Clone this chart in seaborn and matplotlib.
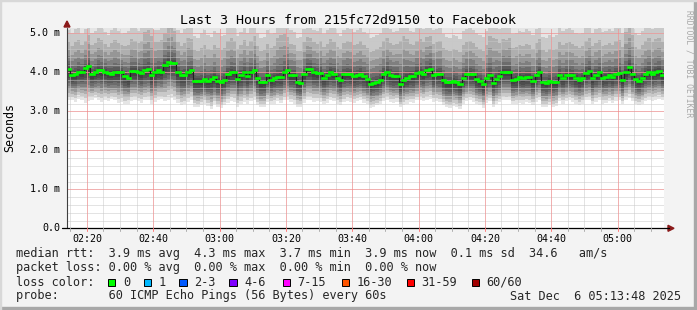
import matplotlib
matplotlib.use("Agg")
import matplotlib.pyplot as plt
import seaborn as sns
import numpy as np
import pandas as pd
from matplotlib.patches import Rectangle, Polygon

# ---------------- data ----------------
title = "Last 3 Hours from 215fc72d9150 to Facebook"
tick_labels = ["02:20", "02:40", "03:00", "03:20", "03:40", "04:00", "04:20", "04:40", "05:00"]
ytick_values = [0.0, 1.0, 2.0, 3.0, 4.0, 5.0]
ytick_labels = ["0.0", "1.0 m", "2.0 m", "3.0 m", "4.0 m", "5.0 m"]

# median rtt per minute (ms), starting 02:14
median_rtt = [
    4.08, 3.93, 3.96, 4.02, 4.01, 4.10, 4.17, 3.95, 4.00, 4.07,
    4.05, 4.02, 3.98, 3.96, 4.00, 4.00, 4.00, 3.91, 3.86, 4.03,
    4.03, 4.01, 3.98, 4.05, 4.08, 3.93, 4.00, 4.07, 4.02, 4.20,
    4.27, 4.24, 4.24, 4.00, 3.93, 3.93, 4.02, 4.05, 3.78, 3.78,
    3.78, 3.83, 3.78, 3.83, 3.88, 3.78, 3.76, 3.80, 3.95, 4.00,
    4.00, 3.83, 3.92, 4.00, 3.90, 4.00, 4.07, 3.85, 3.74, 3.74,
    3.92, 3.81, 3.85, 3.88, 3.88, 4.00, 4.07, 3.93, 3.93, 3.76,
    3.73, 3.95, 4.09, 4.09, 4.00, 3.98, 3.98, 3.86, 3.93, 4.00,
    3.97, 3.86, 3.81, 3.95, 3.97, 3.95, 3.90, 3.92, 3.95, 3.90,
    3.83, 3.71, 3.73, 3.76, 3.81, 3.95, 4.00, 3.93, 3.90, 3.90,
    3.71, 3.81, 3.86, 3.90, 3.90, 3.98, 4.00, 3.95, 4.05, 4.09,
    3.93, 3.95, 3.95, 3.81, 3.74, 3.74, 3.78, 3.76, 3.69, 3.86,
    3.95, 3.95, 3.95, 3.83, 3.78, 3.69, 3.86, 3.93, 3.73, 3.83,
    3.90, 4.02, 4.02, 4.02, 3.81, 3.83, 3.88, 3.86, 3.88, 3.88,
    3.78, 3.92, 4.00, 3.74, 3.73, 3.78, 3.74, 3.76, 3.93, 3.86,
    3.93, 3.93, 3.93, 3.85, 3.81, 3.85, 3.98, 4.03, 3.85, 3.93,
    4.00, 3.86, 3.88, 3.93, 3.88, 3.95, 3.98, 3.81, 4.00, 4.14,
    3.95, 3.83, 3.78, 3.85, 3.95, 4.00, 3.95, 4.00, 4.03, 3.93,
]

# fastest ping per minute (ms)
min_rtt = [
    3.28, 3.30, 3.25, 3.32, 3.30, 3.22, 3.27, 3.30, 3.33, 3.28,
    3.24, 3.30, 3.26, 3.31, 3.28, 3.22, 3.25, 3.18, 3.20, 3.27,
    3.30, 3.26, 3.22, 3.28, 3.30, 3.20, 3.24, 3.29, 3.31, 3.26,
    3.30, 3.34, 3.28, 3.22, 3.15, 3.18, 3.25, 3.30, 3.12, 3.10,
    3.16, 3.20, 3.14, 3.05, 3.18, 3.10, 3.08, 3.15, 3.22, 3.27,
    3.25, 3.12, 3.18, 3.24, 3.20, 3.26, 3.30, 3.15, 3.10, 3.12,
    3.24, 3.18, 3.20, 3.26, 3.22, 3.28, 3.30, 3.24, 3.20, 3.12,
    3.10, 3.22, 3.30, 3.28, 3.25, 3.26, 3.24, 3.18, 3.22, 3.28,
    3.26, 3.20, 3.16, 3.24, 3.27, 3.25, 3.22, 3.26, 3.28, 3.22,
    3.18, 3.08, 3.12, 3.15, 3.20, 3.26, 3.30, 3.24, 3.22, 3.25,
    3.10, 3.16, 3.20, 3.24, 3.22, 3.28, 3.30, 3.26, 3.30, 3.32,
    3.25, 3.26, 3.24, 3.15, 3.10, 3.08, 3.14, 3.12, 3.06, 3.20,
    3.26, 3.28, 3.25, 3.18, 3.15, 3.08, 3.22, 3.26, 3.12, 3.18,
    3.24, 3.30, 3.28, 3.30, 3.18, 3.20, 3.22, 3.20, 3.24, 3.22,
    3.15, 3.25, 3.28, 3.12, 3.10, 3.15, 3.12, 3.14, 3.26, 3.20,
    3.26, 3.28, 3.25, 3.20, 3.16, 3.20, 3.28, 3.30, 3.18, 3.25,
    3.28, 3.20, 3.22, 3.26, 3.22, 3.27, 3.28, 3.18, 3.30, 3.34,
    3.26, 3.18, 3.15, 3.20, 3.26, 3.30, 3.27, 3.30, 3.32, 3.30,
]

# slowest ping per minute (ms)
max_rtt = [
    5.45, 5.40, 5.55, 5.60, 5.35, 5.50, 5.70, 5.40, 5.45, 5.65,
    5.55, 5.40, 5.30, 5.50, 5.60, 5.45, 5.35, 5.40, 5.50, 5.65,
    5.55, 5.45, 5.60, 5.95, 6.05, 5.90, 5.50, 5.45, 5.60, 5.80,
    6.00, 6.10, 5.85, 5.50, 5.40, 5.55, 5.70, 5.60, 5.35, 5.30,
    5.45, 5.55, 5.40, 5.30, 5.50, 5.45, 5.35, 5.40, 5.60, 5.70,
    5.55, 5.35, 5.45, 5.60, 5.40, 5.55, 5.75, 5.45, 5.30, 5.35,
    5.50, 5.40, 5.45, 5.85, 6.00, 5.90, 5.70, 5.50, 5.45, 5.30,
    5.35, 5.55, 5.70, 5.65, 5.50, 5.45, 5.60, 5.40, 5.50, 5.65,
    5.55, 5.40, 5.35, 5.50, 5.60, 5.55, 5.45, 5.50, 5.60, 5.45,
    5.40, 5.30, 5.35, 5.40, 5.45, 5.60, 5.70, 5.55, 5.45, 5.50,
    5.85, 6.00, 5.80, 5.50, 5.45, 5.60, 5.65, 5.55, 5.70, 5.75,
    5.50, 5.55, 5.60, 5.40, 5.35, 5.30, 5.40, 5.35, 5.30, 5.50,
    5.55, 5.60, 5.50, 5.45, 5.40, 5.35, 5.50, 5.90, 6.00, 5.85,
    5.55, 5.65, 5.60, 5.70, 5.40, 5.45, 5.50, 5.45, 5.55, 5.50,
    5.40, 5.55, 5.65, 5.35, 5.30, 5.40, 5.35, 5.40, 5.60, 5.50,
    5.55, 5.60, 5.50, 5.45, 5.40, 5.45, 5.60, 5.70, 5.45, 5.55,
    5.60, 5.45, 5.50, 5.55, 5.50, 5.60, 5.65, 5.45, 6.00, 6.20,
    5.90, 5.45, 5.40, 5.50, 5.60, 5.70, 5.55, 5.65, 5.70, 5.60,
]

legend_line1 = "median rtt:  3.9 ms avg  4.3 ms max  3.7 ms min  3.9 ms now  0.1 ms sd  34.6   am/s"
legend_line2 = "packet loss: 0.00 % avg  0.00 % max  0.00 % min  0.00 % now"
legend_line3 = "loss color:"
loss_labels = ["0", "1", "2-3", "4-6", "7-15", "16-30", "31-59", "60/60"]
loss_colors = ["#00ff00", "#00b8ff", "#0059ff", "#7e00ff", "#ff00ff", "#ff5500", "#ff0000", "#a10000"]
probe_text = "probe:       60 ICMP Echo Pings (56 Bytes) every 60s"
date_text = "Sat Dec  6 05:13:48 2025"
watermark = "RRDTOOL / TOBI OETIKER"
ylabel = "Seconds"

# ---------------- figure ----------------
W, H = 697, 310
sns.set_theme(style="white")
plt.rcParams["font.family"] = ["DejaVu Sans Mono"]
fig = plt.figure(figsize=(W / 100, H / 100), dpi=100)
fig.patch.set_facecolor("#f3f3f3")

def fx(px):
    return px / W

def fy(py):
    return 1 - py / H

# 3D frame
fig.patches.append(Rectangle((0, 0), 1, fy(H - 3), transform=fig.transFigure, color="#a8a8a8", zorder=0))
fig.patches.append(Rectangle((fx(W - 3), 0), fx(3), 1, transform=fig.transFigure, color="#a8a8a8", zorder=0))
fig.patches.append(Rectangle((0, fy(1)), 1, fy(0) - fy(1), transform=fig.transFigure, color="#d8d8d8", zorder=0))
fig.patches.append(Rectangle((0, 0), fx(1), 1, transform=fig.transFigure, color="#d8d8d8", zorder=0))

left, top, bottom = 67, 28.3, 228.3
ax = fig.add_axes([fx(left), fy(bottom), fx(597), fy(top) - fy(bottom)])
ax.set_facecolor("white")
n = len(median_rtt)
ax.set_xlim(0, n)
ax.set_ylim(0, 5.13)
for s in ax.spines.values():
    s.set_visible(False)
ax.set_xticks([])
ax.set_yticks([])

med = np.array(median_rtt)
lo = np.array(min_rtt)
hi = np.array(max_rtt)
t = np.arange(n)
edges = np.arange(n + 1)

def ext(a):
    return np.append(a, a[-1])

# smoke (nested percentile-like bands, darker towards the median)
fracs = [1.0, 0.8, 0.62, 0.48, 0.36, 0.26, 0.18, 0.11, 0.05]
alphas = [0.10, 0.12, 0.13, 0.14, 0.15, 0.15, 0.15, 0.15, 0.15]
for f, a in zip(fracs, alphas):
    ax.fill_between(edges, ext(med - (f ** 0.6) * (med - lo)), ext(med + (f ** 1.4) * (hi - med)),
                    step="post", color="black", alpha=a, lw=0, zorder=1)

# grid
dot = (0, (1, 1))
for m in range(1, n, 5):
    ax.axvline(m, color="#c8c8c8", lw=0.72, ls=dot, zorder=2)
for v in np.arange(0.2, 5.13, 0.2):
    ax.axhline(v, color="#c8c8c8", lw=0.72, ls=dot, zorder=2)
major_x = [6 + 20 * i for i in range(len(tick_labels))]
for m in major_x:
    ax.axvline(m, color="#ff8080", lw=0.72, ls=dot, zorder=3)
for v in ytick_values[1:]:
    ax.axhline(v, color="#ff8080", lw=0.72, ls=dot, zorder=3)

# median line: dark step connectors + green levels
df = pd.DataFrame({"t": t, "median": med})
sns.lineplot(data=df, x="t", y="median", drawstyle="steps-post", color="#202020",
             lw=0.8, ax=ax, zorder=4)
ax.hlines(med, t, t + 1, color="#00ff00", lw=1.9, zorder=5, capstyle="projecting")
ax.set_xlabel("")
ax.set_ylabel("")

# axes lines and arrows
ax.plot([0, 0], [0, 1.0], transform=ax.transAxes, color="#404040", lw=0.8, clip_on=False, zorder=6)
fig.lines.append(plt.Line2D([fx(62), fx(669)], [fy(bottom), fy(bottom)], transform=fig.transFigure,
                            color="black", lw=0.9))
for m in range(1, n, 5):
    xp = left + m * 597 / n
    fig.lines.append(plt.Line2D([fx(xp), fx(xp)], [fy(bottom), fy(bottom + 2.5)], transform=fig.transFigure,
                                color="#ff8080" if m in major_x else "#b0b0b0", lw=0.72))
fig.patches.append(Polygon([[fx(64), fy(27)], [fx(70), fy(27)], [fx(67), fy(21)]], closed=True,
                           transform=fig.transFigure, color="#8b1a1a"))
fig.patches.append(Polygon([[fx(668), fy(bottom - 3)], [fx(668), fy(bottom + 3)], [fx(674), fy(bottom)]],
                           closed=True, transform=fig.transFigure, color="#8b1a1a"))

# tick labels
for m, lab in zip(major_x, tick_labels):
    xp = left + m * 597 / n
    fig.text(fx(xp), fy(241.5), lab, ha="center", va="baseline", fontsize=7.2, color="black")
for v, lab in zip(ytick_values, ytick_labels):
    yp = bottom - v * (bottom - top) / 5.13
    fig.text(fx(60), fy(yp), lab, ha="right", va="center", fontsize=7.2, color="black")

# title & labels
fig.text(fx(348), fy(23.5), title, ha="center", va="baseline", fontsize=9.6, color="black")
fig.text(fx(10), fy(128), ylabel, rotation=90, ha="center", va="center", fontsize=8.4, color="black")
fig.text(fx(689), fy(10), watermark, rotation=270, ha="center", va="top", fontsize=5.8, color="#a8a8a8")

# legend
fs = 8.55
pitch = 7.13
fig.text(fx(16), fy(257.5), legend_line1, ha="left", va="baseline", fontsize=fs)
fig.text(fx(16), fy(271.5), legend_line2, ha="left", va="baseline", fontsize=fs)
fig.text(fx(16), fy(285.5), legend_line3, ha="left", va="baseline", fontsize=fs)
label_cols = [15, 20, 25, 32, 39.5, 47.8, 56.9, 66]
for col, lab, c in zip(label_cols, loss_labels, loss_colors):
    tx = 16 + col * pitch
    bx = tx - 15
    fig.patches.append(Rectangle((fx(bx), fy(286)), fx(7.5), fy(278.5) - fy(286), transform=fig.transFigure,
                                 facecolor=c, edgecolor="black", lw=0.7))
    fig.text(fx(tx), fy(285.5), lab, ha="left", va="baseline", fontsize=fs)
fig.text(fx(16), fy(299.5), probe_text, ha="left", va="baseline", fontsize=fs)
fig.text(fx(681), fy(299.5), date_text, ha="right", va="baseline", fontsize=fs)

fig.savefig("out.png", dpi=100, facecolor=fig.get_facecolor())
